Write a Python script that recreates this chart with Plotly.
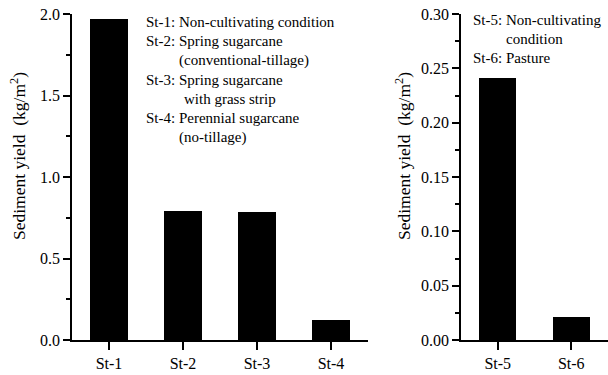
import plotly.graph_objects as go

# Sediment yield by site (kg/m^2)
sites_a = ["St-1", "St-2", "St-3", "St-4"]
yield_a = [1.97, 0.793, 0.783, 0.123]

sites_b = ["St-5", "St-6"]
yield_b = [0.241, 0.021]

legend_a = [
    ("St-1: Non-cultivating condition", 144, 22.5),
    ("St-2: Spring sugarcane", 144, 41.5),
    ("(conventional-tillage)", 176.5, 60.5),
    ("St-3: Spring sugarcane", 144, 80),
    ("with grass strip", 181.5, 99),
    ("St-4: Perennial sugarcane", 144, 118),
    ("(no-tillage)", 176.5, 137),
]
legend_b = [
    ("St-5: Non-cultivating", 470.5, 20),
    ("condition", 504, 38.5),
    ("St-6: Pasture", 470.5, 57.5),
]

W, H = 608, 375
MT, MB = 14, 35
PH = H - MT - MB
FONT = "Liberation Serif"


def px_x(px):
    return px / W


def px_y(py):
    return (H - MB - py) / PH


fig = go.Figure()
fig.add_trace(go.Bar(x=sites_a, y=yield_a, width=0.51, marker=dict(color="black", line=dict(width=0)),
                     xaxis="x", yaxis="y", showlegend=False))
fig.add_trace(go.Bar(x=sites_b, y=yield_b, width=0.51, marker=dict(color="black", line=dict(width=0)),
                     xaxis="x2", yaxis="y2", showlegend=False))

axis_common = dict(showline=True, linecolor="black", linewidth=1.6, ticks="outside",
                   tickcolor="black", tickwidth=1.6, showgrid=False, zeroline=False,
                   tickfont=dict(family=FONT, size=16, color="black"))

fig.update_layout(
    width=W, height=H,
    margin=dict(l=0, r=0, t=MT, b=MB),
    paper_bgcolor="white", plot_bgcolor="white",
    bargap=0,
    xaxis=dict(domain=[px_x(72), px_x(368)], range=[-0.5, 3.5], ticklen=8, **axis_common),
    yaxis=dict(range=[0, 2.0], tickvals=[0, 0.5, 1.0, 1.5, 2.0],
               ticktext=["0.0", "0.5", "1.0", "1.5", "2.0"], ticklen=7,
               minor=dict(ticks="outside", ticklen=4, tickwidth=1.6, tickcolor="black",
                          tickvals=[0.25, 0.75, 1.25, 1.75]),
               **axis_common),
    xaxis2=dict(domain=[px_x(461), 1.0], range=[-0.5, 1.5], anchor="y2", ticklen=8, **axis_common),
    yaxis2=dict(range=[0, 0.30], tickvals=[0, 0.05, 0.10, 0.15, 0.20, 0.25, 0.30],
                ticktext=["0.00", "0.05", "0.10", "0.15", "0.20", "0.25", "0.30"], ticklen=7,
                minor=dict(ticks="outside", ticklen=4, tickwidth=1.6, tickcolor="black",
                           tickvals=[0.025, 0.075, 0.125, 0.175, 0.225, 0.275]),
                anchor="x2", **axis_common),
)

title_text = "Sediment yield  (kg/m<sup>2</sup>)"
for xc in (18, 403):
    fig.add_annotation(text=title_text, textangle=-90, xref="paper", yref="paper",
                       x=px_x(xc), y=px_y(156), xanchor="center", yanchor="middle",
                       showarrow=False, font=dict(family=FONT, size=17.5, color="black"))

for text, xl, yc in legend_a + legend_b:
    fig.add_annotation(text=text, xref="paper", yref="paper", x=px_x(xl), y=px_y(yc),
                       xanchor="left", yanchor="middle", showarrow=False,
                       font=dict(family=FONT, size=15, color="black"))

fig.write_html("out.html")
